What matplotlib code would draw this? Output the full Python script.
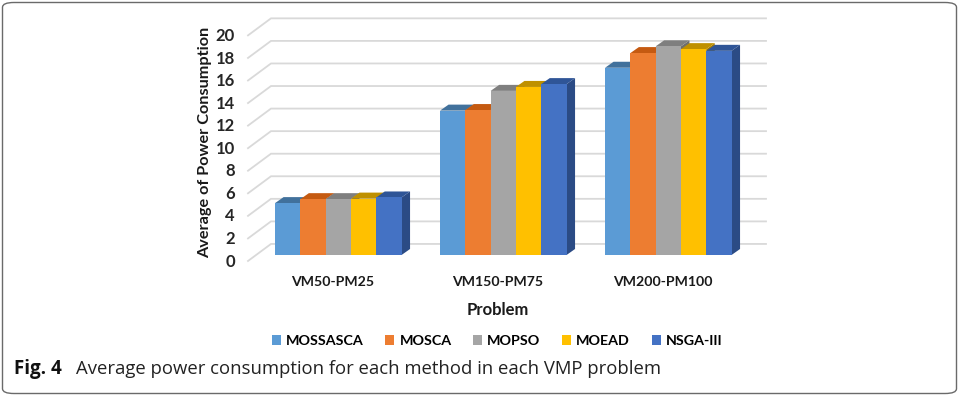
import matplotlib
matplotlib.use("Agg")
import matplotlib.pyplot as plt
from matplotlib.patches import Polygon, Patch, FancyBboxPatch
import numpy as np

# data
problems = ["VM50-PM25", "VM150-PM75", "VM200-PM100"]
methods = ["MOSSASCA", "MOSCA", "MOPSO", "MOEAD", "NSGA-III"]
mossasca = [4.6, 12.8, 16.6]
mosca = [4.95, 12.85, 17.9]
mopso = [4.95, 14.55, 18.5]
moead = [5.0, 14.9, 18.25]
nsga3 = [5.1, 15.15, 18.1]
yticks = [0, 2, 4, 6, 8, 10, 12, 14, 16, 18, 20]

front = ["#5B9BD5", "#ED7D31", "#A5A5A5", "#FFC000", "#4472C4"]
top = ["#41719C", "#C55A11", "#7F7F7F", "#BF9000", "#2F5597"]
side = ["#3A6591", "#AE4F0F", "#6E6E6E", "#A67D00", "#2B4B85"]

W, H = 958, 395
fig = plt.figure(figsize=(W / 100, H / 100), dpi=100)
ax = fig.add_axes([0, 0, 1, 1])
ax.set_axis_off()

# one category = 165 px, one unit of value = 11.28 px
px_x = 165.0
px_y = 11.28
x0_px = 338.3
y0_px = 255.0
ax.set_xlim(-x0_px / px_x, (W - x0_px) / px_x)
ax.set_ylim(-(H - y0_px) / px_y, y0_px / px_y)

# frame around the figure
fig.patches.append(FancyBboxPatch((2.5 / W, 1.5 / H), 954 / W, 391 / H,
                                  boxstyle="round,pad=0,rounding_size=0.012",
                                  transform=fig.transFigure, fill=False,
                                  ec="#6a6a6a", lw=1.0))

# walls / gridlines
gx_front = (248 - x0_px) / px_x
gx_back = (271 - x0_px) / px_x
gx_end = (766 - x0_px) / px_x
for v in yticks:
    yf = v - 0.53
    yb = v + 0.98
    ax.plot([gx_front, gx_back, gx_end], [yf, yb, yb], color="#d9d9d9",
            lw=1.3, zorder=1, solid_joinstyle="miter")
    ax.text((235 - x0_px) / px_x, yf - 0.05, str(v), ha="right", va="center",
            fontsize=12, fontweight="bold", family="Lato", color="#262626")

# bars
series = [mossasca, mosca, mopso, moead, nsga3]
bw = 25.3 / px_x
dx = 8.5 / px_x
dy = 6.0 / px_y
xc = np.arange(len(problems))
for gi in range(len(problems)):
    for j, vals in enumerate(series):
        v = vals[gi]
        xl = xc[gi] + (j - 2.5) * bw
        xr = xl + bw
        ax.add_patch(Polygon([[xr, 0], [xr + dx, dy], [xr + dx, v + dy], [xr, v]],
                             closed=True, fc=side[j], ec="none", zorder=2))
        ax.add_patch(Polygon([[xl, v], [xr, v], [xr + dx, v + dy], [xl + dx, v + dy]],
                             closed=True, fc=top[j], ec="none", zorder=2))
        ax.bar(xl, v, width=bw, align="edge", color=front[j], zorder=3,
               edgecolor="none")

for i, p in enumerate(problems):
    ax.text(xc[i] - 0.035, -2.42, p, ha="center", va="center", fontsize=10.2,
            fontweight="bold", family="Lato", color="#1a1a1a")

ax.text(1.0 - 0.035, -4.9, "Problem", ha="center", va="center", fontsize=12,
        fontweight="bold", family="Lato", color="#1a1a1a")

ax.text((205 - x0_px) / px_x, (y0_px - 142) / px_y, "Average of Power Consumption",
        rotation=90, ha="center", va="center", fontsize=11.7, fontweight="bold",
        family="Lato", color="#1a1a1a")

handles = [Patch(facecolor=c, edgecolor="none") for c in front]
fig.legend(handles, methods, loc="center", bbox_to_anchor=(497 / W, 1 - 341 / H),
           ncol=5, frameon=False, handlelength=0.65, handleheight=0.65,
           handletextpad=0.35, columnspacing=1.5,
           prop={"family": "Lato", "weight": "bold", "size": 10.3})

fig.text(14 / W, 1 - 369 / H, "Fig. 4", ha="left", va="center", fontsize=13.5,
         fontweight="bold", family="Open Sans", color="#111111")
fig.text(76 / W, 1 - 369 / H, "Average power consumption for each method in each VMP problem",
         ha="left", va="center", fontsize=13.3, family="Open Sans", color="#222222")

fig.savefig("out.png", dpi=100)
